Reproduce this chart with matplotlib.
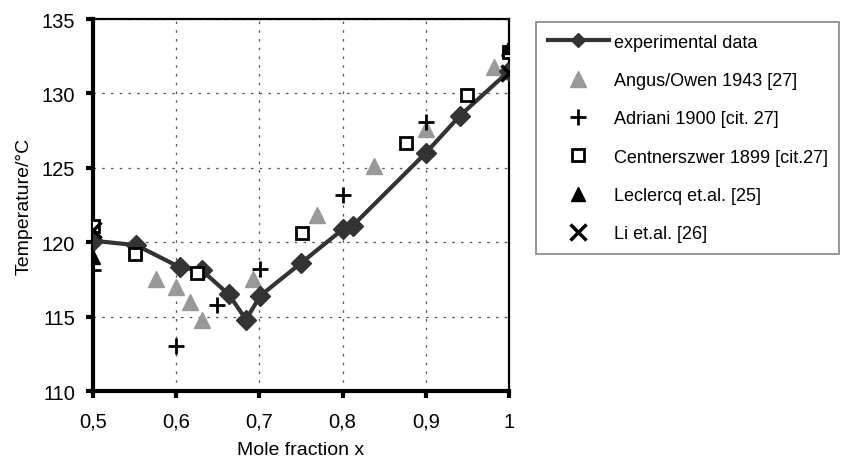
import matplotlib
matplotlib.use("Agg")
import matplotlib.pyplot as plt
from matplotlib.ticker import FuncFormatter

plt.rcParams['font.family'] = ['Liberation Sans', 'DejaVu Sans']

# experimental data (line with diamonds)
exp_x = [0.5, 0.552, 0.605, 0.631, 0.663, 0.684, 0.701, 0.750, 0.801, 0.812, 0.900, 0.941, 1.0]
exp_t = [120.1, 119.8, 118.3, 118.1, 116.5, 114.8, 116.4, 118.6, 120.9, 121.1, 126.0, 128.5, 131.5]

# Angus/Owen 1943 [27]
angus_x = [0.576, 0.600, 0.617, 0.631, 0.692, 0.769, 0.838, 0.900, 0.982]
angus_t = [117.5, 117.0, 116.0, 114.8, 117.5, 121.8, 125.1, 127.6, 131.8]

# Adriani 1900 [cit. 27]
adriani_x = [0.5, 0.600, 0.649, 0.701, 0.800, 0.900, 1.0]
adriani_t = [118.1, 113.0, 115.8, 118.2, 123.2, 128.1, 132.6]

# Centnerszwer 1899 [cit.27]
cent_x = [0.5, 0.551, 0.625, 0.751, 0.876, 0.950, 1.0]
cent_t = [121.1, 119.2, 117.9, 120.6, 126.7, 129.9, 132.8]

# Leclercq et.al. [25]
lecl_x = [0.5, 1.0]
lecl_t = [119.0, 133.1]

# Li et.al. [26]
li_x = [0.5, 1.0]
li_t = [120.8, 131.4]

fig = plt.figure(figsize=(8.45, 4.6), dpi=100)
ax = fig.add_axes([93 / 845, 1 - 392 / 460, (509 - 93) / 845, (392 - 20) / 460])

ax.plot(exp_x, exp_t, color='#333333', lw=3, marker='D', ms=10,
        mfc='#333333', mec='#333333', label='experimental data', zorder=4)
ax.plot(angus_x, angus_t, ls='none', marker='^', ms=11, color='#999999',
        label='Angus/Owen 1943 [27]', zorder=3)
ax.plot(adriani_x, adriani_t, ls='none', marker='+', ms=12, mew=2, color='black',
        label='Adriani 1900 [cit. 27]', zorder=5)
ax.plot(cent_x, cent_t, ls='none', marker='s', ms=9, mew=2, mfc='white', mec='black',
        label='Centnerszwer 1899 [cit.27]', zorder=5)
ax.plot(lecl_x, lecl_t, ls='none', marker='^', ms=10, color='black',
        label='Leclercq et.al. [25]', zorder=5)
ax.plot(li_x, li_t, ls='none', marker='x', ms=12, mew=2.5, color='black',
        label='Li et.al. [26]', zorder=6)

ax.set_xlim(0.5, 1.0)
ax.set_ylim(110, 135)
ax.set_xticks([0.5, 0.6, 0.7, 0.8, 0.9, 1.0])
ax.set_yticks([110, 115, 120, 125, 130, 135])
ax.xaxis.set_major_formatter(FuncFormatter(lambda v, p: ('%g' % round(v, 1)).replace('.', ',')))

ax.grid(True, color='#555555', ls=(0, (2, 5)), lw=0.9)
ax.set_axisbelow(True)

for side in ['left', 'bottom']:
    ax.spines[side].set_linewidth(3)
for side in ['top', 'right']:
    ax.spines[side].set_linewidth(1.6)
for sp in ax.spines.values():
    sp.set_clip_on(False)

ax.tick_params(axis='both', direction='out', length=5, width=3, labelsize=14.5)
ax.tick_params(axis='x', pad=10)
ax.tick_params(axis='y', pad=8)

ax.set_xlabel('Mole fraction x', fontsize=14, labelpad=7)
ax.set_ylabel('Temperature/°C', fontsize=14, labelpad=6)

leg = fig.legend(loc='upper left', bbox_to_anchor=(536 / 845, 1 - 23 / 460),
                 fontsize=13, frameon=True, fancybox=False, borderaxespad=0,
                 handlelength=3.4, labelspacing=1.18, borderpad=0.65,
                 handletextpad=0.25, numpoints=1)
leg.get_frame().set_edgecolor('#666666')
leg.get_frame().set_linewidth(1.2)
leg.legend_handles[0].set_markersize(7)

fig.savefig('out.png', dpi=100)
